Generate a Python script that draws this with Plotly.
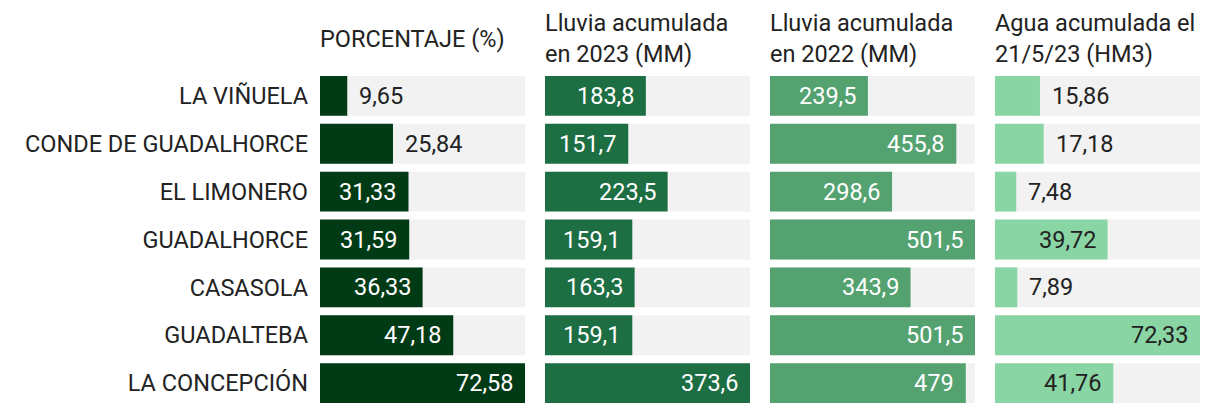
import plotly.graph_objects as go
from plotly.subplots import make_subplots

embalses = ["LA VIÑUELA", "CONDE DE GUADALHORCE", "EL LIMONERO", "GUADALHORCE",
            "CASASOLA", "GUADALTEBA", "LA CONCEPCIÓN"]
porcentaje = [9.65, 25.84, 31.33, 31.59, 36.33, 47.18, 72.58]
lluvia_2023 = [183.8, 151.7, 223.5, 159.1, 163.3, 159.1, 373.6]
lluvia_2022 = [239.5, 455.8, 298.6, 501.5, 343.9, 501.5, 479]
agua_hm3 = [15.86, 17.18, 7.48, 39.72, 7.89, 72.33, 41.76]

titles = ["PORCENTAJE (%)", "Lluvia acumulada<br>en 2023 (MM)",
          "Lluvia acumulada<br>en 2022 (MM)", "Agua acumulada el<br>21/5/23 (HM3)"]
series = [porcentaje, lluvia_2023, lluvia_2022, agua_hm3]
colors = ["#013b16", "#1e6e44", "#55a271", "#8ad5a4"]
inside_text_colors = ["#ffffff", "#ffffff", "#ffffff", "#222222"]
FONT = "Roboto"
DARK = "#222222"
FS = 23.5

PLOT_H = 335
fig = make_subplots(rows=1, cols=4, shared_yaxes=True,
                    horizontal_spacing=20 / 880)

for i, vals in enumerate(series):
    col = i + 1
    vmax = max(vals)
    fig.add_trace(go.Bar(y=embalses, x=[vmax] * len(vals), orientation="h",
                         marker=dict(color="#f2f2f2", line=dict(width=0)),
                         hoverinfo="skip", showlegend=False), row=1, col=col)
    fig.add_trace(go.Bar(y=embalses, x=vals, orientation="h",
                         marker=dict(color=colors[i], line=dict(width=0)),
                         showlegend=False), row=1, col=col)
    xref = "x" if col == 1 else f"x{col}"
    yref = "y" if col == 1 else f"y{col}"
    for name, v in zip(embalses, vals):
        label = f"{v:g}".replace(".", ",")
        inside = v / vmax > 0.38
        fig.add_annotation(x=v, y=name, xref=xref, yref=yref, text=label,
                           showarrow=False,
                           xanchor="right" if inside else "left",
                           xshift=-10 if inside else 10,
                           font=dict(family=FONT, size=FS,
                                     color=inside_text_colors[i] if inside else DARK))
    fig.update_xaxes(range=[0, vmax], visible=False, fixedrange=True, row=1, col=col)
    dom_start = (205 + 20) * i / 880
    fig.add_annotation(x=dom_start, y=1 + 33 / PLOT_H, xref="paper", yref="paper",
                       text=titles[i], showarrow=False, xanchor="left", yanchor="middle",
                       xshift=-2, align="left",
                       font=dict(family=FONT, size=FS, color=DARK))

fig.update_yaxes(autorange="reversed", showgrid=False, zeroline=False, showline=False,
                 ticks="", tickfont=dict(family=FONT, size=FS, color=DARK),
                 ticklabelstandoff=11, automargin=False)
fig.update_layout(width=1204, height=399, barmode="overlay", bargap=8 / 48,
                  margin=dict(l=312, r=12, t=64, b=0),
                  plot_bgcolor="white", paper_bgcolor="white",
                  font=dict(family=FONT, size=FS, color=DARK))

fig.write_html("out.html")
